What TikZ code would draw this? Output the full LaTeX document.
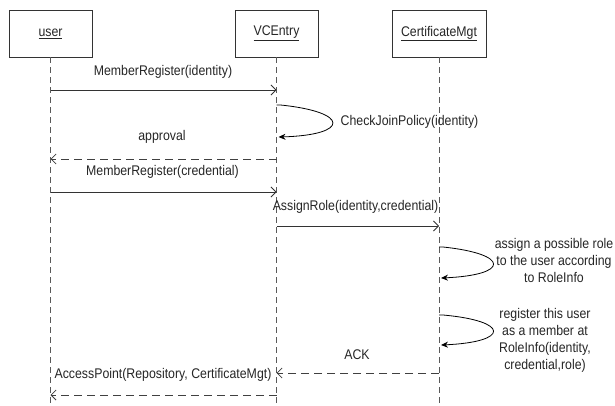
\documentclass[tikz,border=0pt]{standalone}
\usepackage{fontspec}
\newfontfamily\diagfont[FakeStretch=0.88]{Liberation Sans}
\usetikzlibrary{arrows.meta}
\begin{document}
\begin{tikzpicture}[x=1pt,y=-1pt,
  every node/.style={font=\diagfont\fontsize{14}{17}\selectfont, text=black!85},
  objbox/.style={draw=black!80, line width=0.8pt, minimum height=47pt, inner sep=0pt},
  lifeline/.style={draw=black!65, line width=0.8pt, dash pattern=on 6pt off 4pt},
  call/.style={draw=black!80, line width=0.8pt, -{Straight Barb[length=5pt,width=10pt]}},
  reply/.style={draw=black!75, line width=0.8pt, dash pattern=on 8pt off 5pt, -{Straight Barb[length=5pt,width=10pt]}},
  selfcall/.style={draw=black, line width=0.8pt, -{Stealth[length=7pt,width=6pt]}},
  note/.style={align=center}]
\useasboundingbox (0,0) rectangle (615,406);
\fill[white] (0,0) rectangle (615,406);

% objects
\node[objbox, minimum width=83pt] (user) at (50.5,33.5) {\underline{user}};
\node[objbox, minimum width=83pt] (vc) at (276.5,33.5) {\underline{VCEntry}};
\node[objbox, minimum width=94pt] (cm) at (439,33.5) {\underline{CertificateMgt}};

% lifelines
\coordinate (userEnd) at (50.5,406);
\coordinate (vcEnd) at (276.5,406);
\coordinate (cmEnd) at (439,406);
\draw[lifeline] (user.south) -- (userEnd);
\draw[lifeline] (vc.south) -- (vcEnd);
\draw[lifeline] (cm.south) -- (cmEnd);

% message anchor points on lifelines
\coordinate (u1) at (50.5,90);  \coordinate (v1) at (276.5,90);
\coordinate (v2a) at (276.5,105); \coordinate (v2b) at (278.5,137);
\coordinate (v3) at (276.5,159); \coordinate (u3) at (50.5,159);
\coordinate (u4) at (50.5,192); \coordinate (v4) at (276.5,192);
\coordinate (v5) at (276.5,226); \coordinate (c5) at (439,226);
\coordinate (c6a) at (439,247); \coordinate (c6b) at (441,278);
\coordinate (c7a) at (439,315); \coordinate (c7b) at (441,345);
\coordinate (c8) at (439,373); \coordinate (v8) at (276.5,373);
\coordinate (v9) at (276.5,395); \coordinate (u9) at (50.5,395);

% messages
\draw[call] (u1) -- (v1);
\node (m1) at (163,72) {MemberRegister(identity)};

\draw[selfcall] (v2a) -- ++(4,0) .. controls (350,112) and (350,135) .. (v2b);
\node (m2) at (409.5,122) {CheckJoinPolicy(identity)};

\draw[reply] (v3) -- (u3);
\node (m3) at (162,137) {approval};

\draw[call] (u4) -- (v4);
\node (m4) at (162.5,172) {MemberRegister(credential)};

\draw[call] (v5) -- (c5);
\node (m5) at (355.5,207) {AssignRole(identity,credential)};

\draw[selfcall] (c6a) -- ++(4,0) .. controls (510,254) and (510,275) .. (c6b);
\node[note] (n1) at (554,260) {assign a possible role\\to the user according\\to RoleInfo};

\draw[selfcall] (c7a) -- ++(4,0) .. controls (510,321) and (510,342) .. (c7b);
\node[note] (n2) at (545,340) {register this user\\as a member at\\RoleInfo(identity,\\credential,role)};

\draw[reply] (c8) -- (v8);
\node (m8) at (357,355) {ACK};

\draw[reply] (v9) -- (u9);
\node (m9) at (163,375) {AccessPoint(Repository, CertificateMgt)};
\end{tikzpicture}
\end{document}
